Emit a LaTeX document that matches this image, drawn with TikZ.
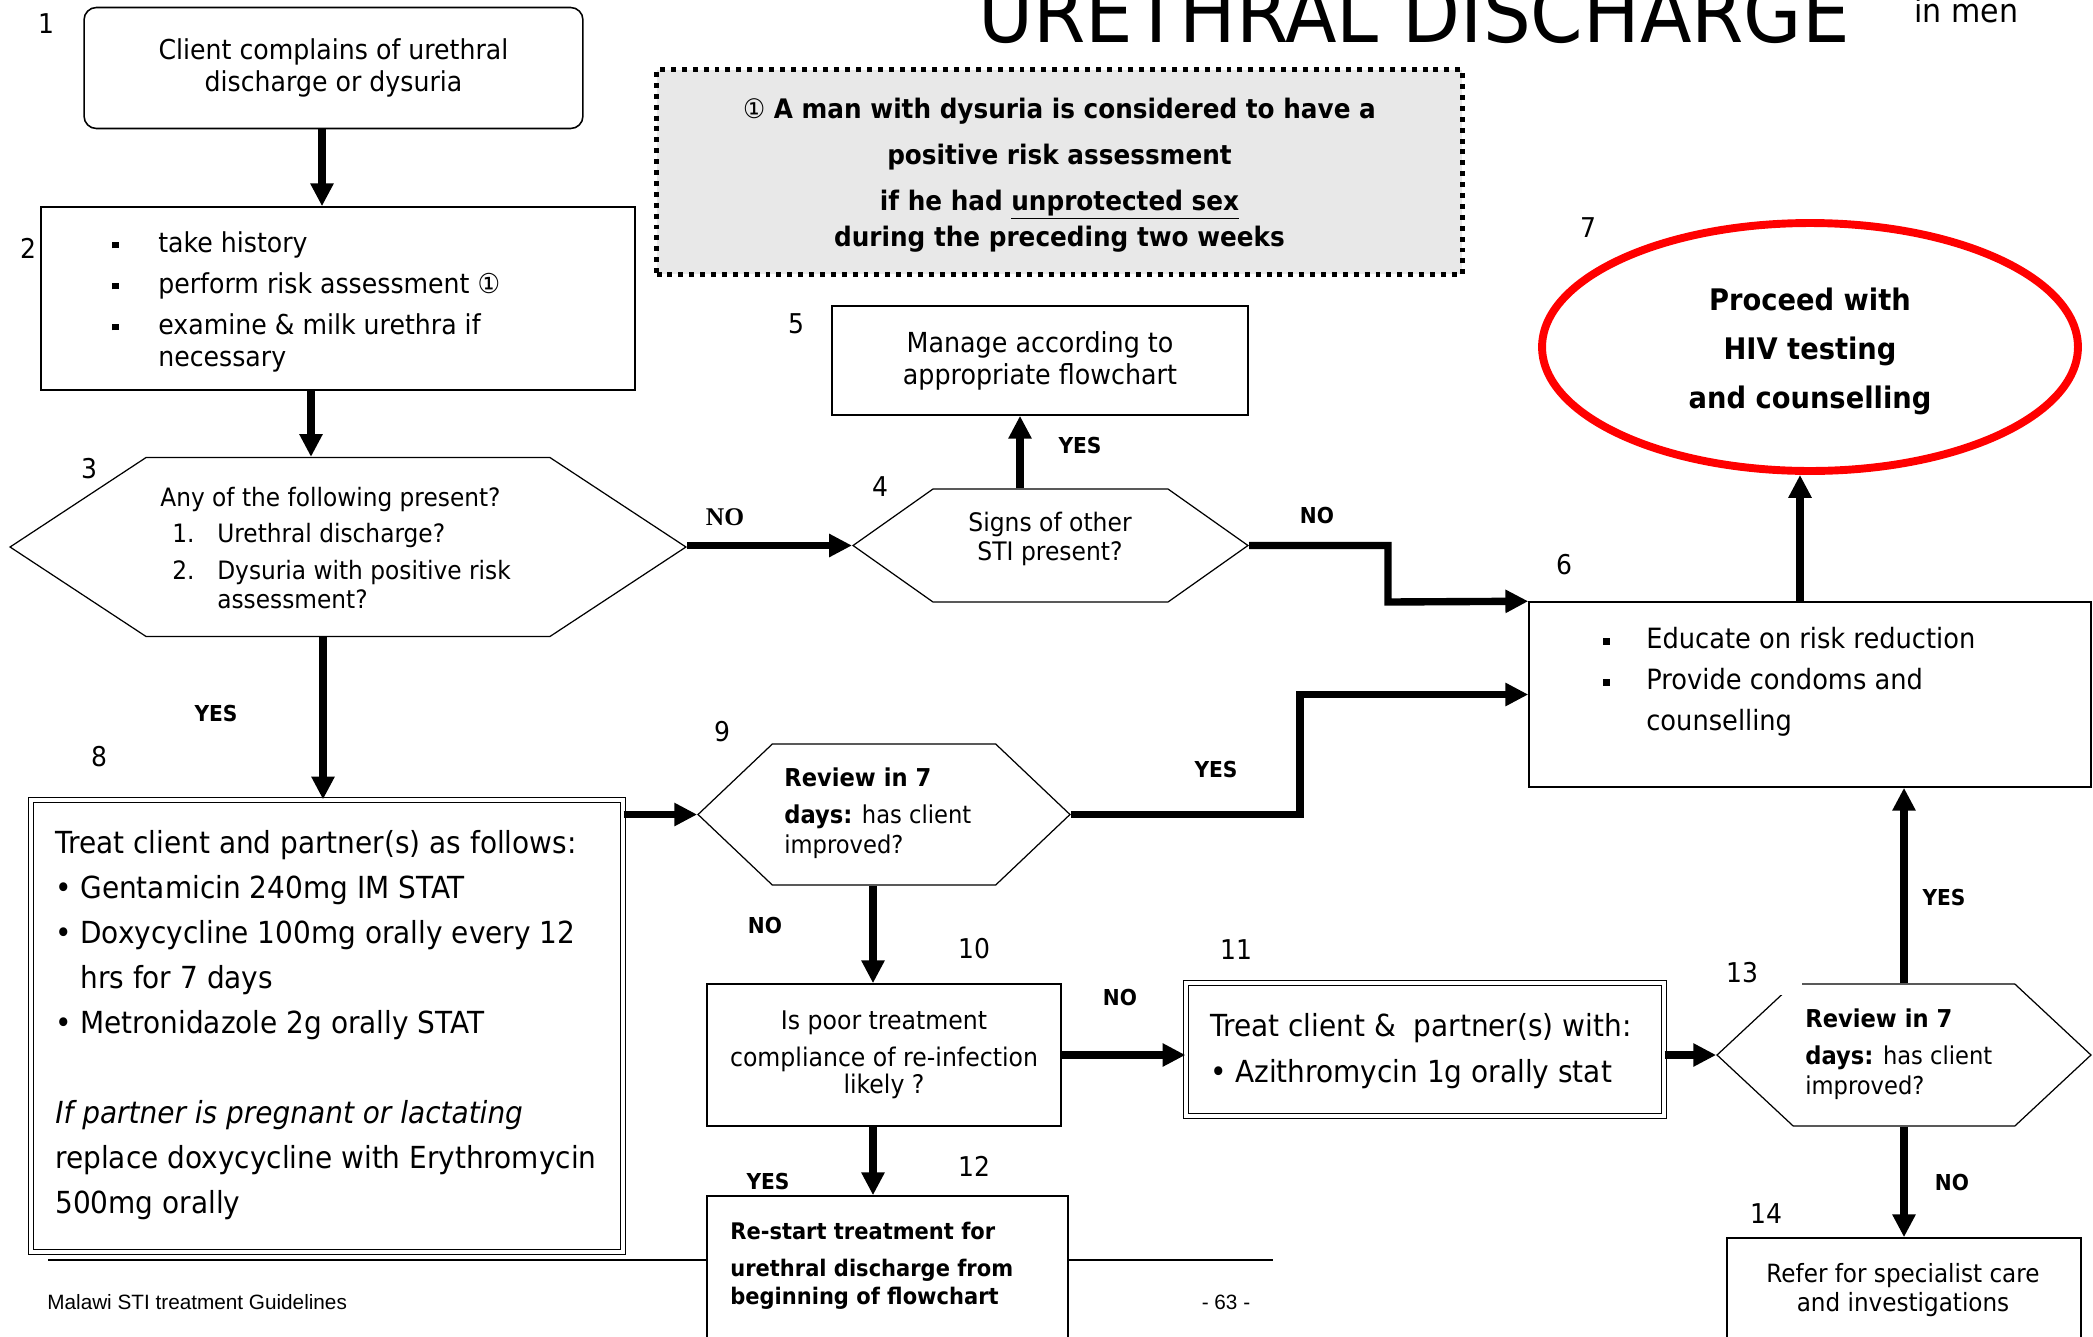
\documentclass[tikz,border=0pt]{standalone}
\usepackage{fontspec}
\setmainfont{DejaVu Sans}[FakeStretch=0.92]
\newfontfamily\footfont{Liberation Sans}
\newfontfamily\serifbold{Liberation Serif}
\usetikzlibrary{arrows.meta,shapes.geometric,shapes.symbols}

\definecolor{notegray}{HTML}{E8E8E8}
\newcommand{\sqbul}{\makebox[0.92cm][l]{\rule[2.4pt]{3.6pt}{3.8pt}}}
\newcommand{\sqbulb}{\makebox[0.86cm][l]{\rule[2.4pt]{3.6pt}{3.8pt}}}
\newcommand{\rbul}{\makebox[0.5cm][l]{•}}

\tikzset{
  box/.style={draw, line width=0.9pt, inner sep=0pt, align=center},
  dbox/.style={draw, double, line width=0.7pt, double distance=1.8pt, inner sep=0pt},
  hexa/.style={draw, signal, signal to=west and east, line width=0.7pt, inner sep=0pt},
  flow/.style={line width=4.2pt, -{Triangle[length=13pt,width=12.5pt]}},
  num/.style={inner sep=0pt, font=\fontsize{15.5}{18}\selectfont},
  yn/.style={inner sep=0pt, font=\bfseries\fontsize{12.5}{15}\selectfont},
  txt/.style={inner sep=0pt, align=left, anchor=west},
}

\begin{document}
\begin{tikzpicture}[x=0.02cm, y=-0.02cm]
\useasboundingbox (0,0) rectangle (2093,1336);
\clip (0,0) rectangle (2093,1336);

% title and footer
\node[anchor=base west, inner sep=0pt, font=\fontsize{46.6}{50}\selectfont] (title) at (978,42) {URETHRAL DISCHARGE};
\node[anchor=base west, inner sep=0pt, font=\fontsize{18.6}{20}\selectfont] (sub) at (1914,22) {in men};
\draw[line width=1pt] (48,1260) -- (1273,1260);
\node[anchor=west, inner sep=0pt, font=\footfont\fontsize{11.8}{14}\selectfont] (foot) at (47,1302) {Malawi STI treatment Guidelines};
\node[inner sep=0pt, font=\footfont\fontsize{11.8}{14}\selectfont] (page) at (1226,1302) {- 63 -};

% boxes
\node[box, rounded corners=7pt, minimum width=9.98cm, minimum height=2.42cm, font=\fontsize{15.6}{18.2}\selectfont] (n1) at (333.5,68) {Client complains of urethral\\discharge or dysuria};
\node[box, minimum width=11.88cm, minimum height=3.66cm] (n2) at (338,298.5) {};
\node[hexa, minimum width=13.52cm, minimum height=3.58cm, signal pointer angle=66.7] (n3) at (348,547) {};
\node[hexa, minimum width=7.9cm, minimum height=2.26cm, signal pointer angle=70.5] (n4) at (1050.5,545.5) {};
\node[box, minimum width=8.32cm, minimum height=2.18cm, font=\fontsize{15.7}{18.2}\selectfont] (n5) at (1040,360.5) {Manage according to\\appropriate flowchart};
\node[draw, fill=notegray, line width=2.8pt, dash pattern=on 2.8pt off 3.4pt, minimum width=16.12cm, minimum height=4.1cm, inner sep=0pt, align=center, font=\bfseries\fontsize{15.3}{20.5}\selectfont] (note) at (1059.5,172) {\rule{0pt}{15.3pt}{\mdseries ①} A man with dysuria is considered to have a\\[5.7pt]positive risk assessment\\[5.7pt]if he had \underline{unprotected sex}\\during the preceding two weeks};
\node[box, minimum width=11.24cm, minimum height=3.7cm] (n6) at (1810,694.5) {};
\node[ellipse, draw=red, line width=4.5pt, minimum width=10.72cm, minimum height=4.96cm, inner sep=0pt, align=center, font=\bfseries\fontsize{16.9}{28}\selectfont] (n7) at (1810,347) {\rule{0pt}{18.2pt}Proceed with\\HIV testing\\and counselling};
\node[dbox, minimum width=11.84cm, minimum height=9.04cm] (n8) at (327,1026) {};
\node[hexa, minimum width=7.44cm, minimum height=2.82cm, signal pointer angle=87] (n9) at (884,814.5) {};
\node[box, minimum width=7.08cm, minimum height=2.84cm, font=\fontsize{14.6}{15.4}\selectfont] (n10) at (884,1055) {Is poor treatment\\[5.7pt]compliance of re-infection\\likely ?};
\node[dbox, minimum width=9.56cm, minimum height=2.66cm] (n11) at (1425,1049.5) {};
\node[box, fill=white, minimum width=7.22cm, minimum height=3cm] (n12) at (887.5,1271) {};
\node[hexa, minimum width=7.48cm, minimum height=2.84cm, signal pointer angle=86] (n13) at (1904,1055) {};
\node[box, minimum width=7.08cm, minimum height=3cm] (n14) at (1904,1313) {};

% texts
\node[txt, font=\fontsize{15.6}{18.2}\selectfont] (t2) at (112,302) {\sqbul take history\\[5.1pt]\sqbul perform risk assessment ①\\[5.1pt]\sqbul examine \& milk urethra if\\\hspace*{0.92cm}necessary};
\node[txt, font=\fontsize{14.4}{16.5}\selectfont] (t3) at (160,548) {Any of the following present?\\[4.3pt]\hspace*{0.24cm}\makebox[0.9cm][l]{1.}Urethral discharge?\\[4.3pt]\hspace*{0.24cm}\makebox[0.9cm][l]{2.}Dysuria with positive risk\\\hspace*{1.14cm}assessment?};
\node[inner sep=0pt, align=center, font=\fontsize{14.5}{17}\selectfont] (t4) at (1050,539) {Signs of other\\STI present?};
\node[txt, font=\fontsize{15.9}{23.3}\selectfont] (t6) at (1603,682) {\sqbulb Educate on risk reduction\\\sqbulb Provide condoms and\\\hspace*{0.86cm}counselling};
\node[txt, font=\fontsize{17.3}{25.6}\selectfont] (t8) at (55,1025) {Treat client and partner(s) as follows:\\\rbul Gentamicin 240mg IM STAT\\\rbul Doxycycline 100mg orally every 12\\\hspace*{0.5cm}hrs for 7 days\\\rbul Metronidazole 2g orally STAT\\[25.6pt]\textit{If partner is pregnant or lactating}\\replace doxycycline with Erythromycin\\500mg orally};
\node[txt, font=\fontsize{14}{17}\selectfont] (t9) at (784,813) {\textbf{Review in 7}\\[4pt]\textbf{days:} has client\\improved?};
\node[txt, font=\fontsize{17.3}{26}\selectfont] (t11) at (1210,1051) {Treat client \&\ \ partner(s) with:\\\rbul Azithromycin 1g orally stat};
\node[txt, font=\bfseries\fontsize{13}{16}\selectfont] (t12) at (730,1266) {Re-start treatment for\\[5pt]urethral discharge from\\beginning of flowchart};
\node[txt, font=\fontsize{14}{17}\selectfont] (t13) at (1805,1054) {\textbf{Review in 7}\\[4pt]\textbf{days:} has client\\improved?};
\node[inner sep=0pt, align=center, font=\fontsize{14.3}{16}\selectfont] (t14) at (1903,1290) {Refer for specialist care\\and investigations};

% connectors
\draw[flow] (n1.south -| 322,0) -- (n2.north -| 322,0);
\draw[flow] (n2.south -| 311,0) -- (n3.north -| 311,0);
\draw[flow] (n3.east |- n4.west) -- (n4.west);
\draw[flow] (n4.north -| 1020,0) -- (n5.south -| 1020,0);
\draw[flow] (n4.east) -| (1388,602) -- (n6.north west);
\draw[flow] (n6.north -| 1800,0) -- (n7.south -| 1800,0);
\draw[flow] (n3.south -| 323,0) -- (n8.north -| 323,0);
\draw[flow] (n8.east |- n9.west) -- (n9.west);
\draw[flow] (n9.east) -| (1300,694.5) -- (n6.west);
\draw[flow] (n9.south -| 873,0) -- (n10.north -| 873,0);
\draw[flow] (n10.east) -- (n11.west |- n10.east);
\draw[flow] (n10.south -| 873,0) -- (n12.north -| 873,0);
\draw[flow] (n11.east |- n13.west) -- (n13.west);
\draw[flow] (n13.north) -- (n6.south -| n13.north);
\draw[flow] (n13.south) -- (n14.north);

% answers
\node[inner sep=0pt, font=\serifbold\bfseries\fontsize{14.5}{16}\selectfont] (no34) at (725,517) {NO};
\node[yn] (yes45) at (1080,445) {YES};
\node[yn] (no46) at (1317,515) {NO};
\node[yn] (yes38) at (216,713) {YES};
\node[yn] (yes96) at (1216,769) {YES};
\node[yn] (no910) at (765,925) {NO};
\node[yn] (no1011) at (1120,997) {NO};
\node[yn] (yes1012) at (768,1181) {YES};
\node[yn] (yes136) at (1944,897) {YES};
\node[yn] (no1314) at (1952,1182) {NO};

% step numbers
\node[num] (l1) at (46,24) {1};
\node[num] (l2) at (28,248) {2};
\node[num] (l3) at (89,469) {3};
\node[num] (l4) at (880,487) {4};
\node[num] (l5) at (796,324) {5};
\node[num] (l6) at (1564,565) {6};
\node[num] (l7) at (1588,228) {7};
\node[num] (l8) at (99,757) {8};
\node[num] (l9) at (722,732) {9};
\node[num] (l10) at (974,949) {10};
\node[num] (l11) at (1236,950) {11};
\node[num] (l12) at (974,1166) {12};
\node[num, fill=white, minimum width=2.4cm, minimum height=0.88cm] (l13) at (1742,973) {13};
\node[num] (l14) at (1766,1214) {14};
\end{tikzpicture}
\end{document}
